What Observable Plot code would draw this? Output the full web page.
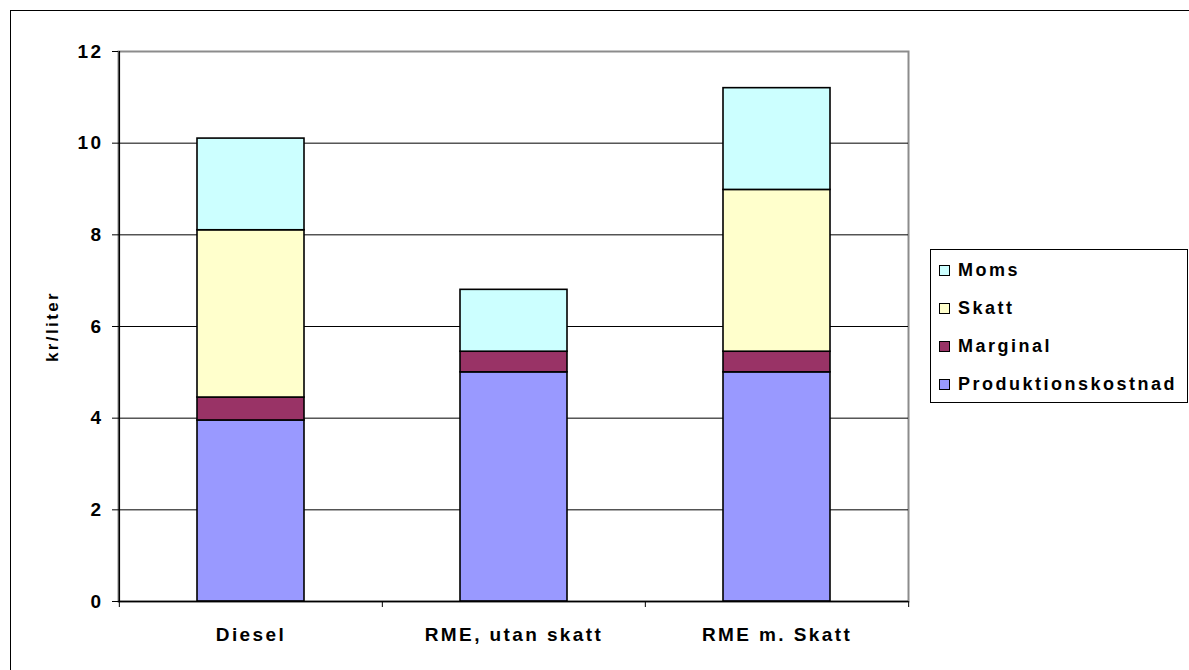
<!DOCTYPE html>
<html>
<head>
<meta charset="utf-8">
<script src="https://cdn.jsdelivr.net/npm/d3@7"></script>
<script src="https://cdn.jsdelivr.net/npm/@observablehq/plot@0.6"></script>
<style>
  html, body { margin: 0; padding: 0; background: #fff; overflow: hidden; width: 1189px; height: 670px; }
  #wrap { position: relative; width: 1189px; height: 670px; }
  #outer { position: absolute; left: 10px; top: 10px; width: 1300px; height: 800px; border: 1px solid #000; box-sizing: border-box; }
  #chart { position: absolute; left: 0; top: 0; }
  #legend { position: absolute; left: 930px; top: 249px; width: 258px; height: 154px; border: 1px solid #000; box-sizing: border-box; background: #fff;
            font-family: "Liberation Sans", Arial, sans-serif; font-weight: bold; font-size: 18px; letter-spacing: 2.5px; }
  .item { position: absolute; left: 8px; height: 20px; display: flex; align-items: center; }
  .sw { width: 11px; height: 11px; border: 1px solid #000; margin-right: 8px; box-sizing: border-box; }
</style>
</head>
<body>
<div id="wrap">
  <div id="chart"></div>
  <div id="outer"></div>
  <div id="legend"></div>
</div>
<script>
const categories = ["Diesel", "RME, utan skatt", "RME m. Skatt"];
const seriesNames = ["Produktionskostnad", "Marginal", "Skatt", "Moms"];
const seriesColors = ["#9999FF", "#993366", "#FFFFCC", "#CCFFFF"];
const produktionskostnad = [3.95, 5.0, 5.0];
const marginal = [0.5, 0.45, 0.45];
const skatt = [3.65, 0, 3.53];
const moms = [2.0, 1.35, 2.22];
const yTicks = [0, 2, 4, 6, 8, 10, 12];
const yLabel = "kr/liter";

const seriesValues = [produktionskostnad, marginal, skatt, moms];
const data = [];
seriesNames.forEach((s, i) => categories.forEach((c, j) => {
  if (seriesValues[i][j] > 0) data.push({cat: c, series: s, value: seriesValues[i][j]});
}));

const W = 1189, H = 670, mL = 118, mR = 281, mT = 51, mB = 69;
const half = (W - mL - mR) / categories.length / 2;
const font = "'Liberation Sans', Arial, sans-serif";

const chart = Plot.plot({
  width: W, height: H,
  marginLeft: mL, marginRight: mR, marginTop: mT, marginBottom: mB,
  style: {fontFamily: font, fontWeight: "bold", fontSize: "18px", color: "#000", background: "transparent", letterSpacing: "2.4px"},
  x: {domain: categories, padding: 0, label: null},
  y: {domain: [0, 12], label: null},
  color: {domain: seriesNames, range: seriesColors},
  marks: [
    Plot.frame({stroke: "#8c8c8c", strokeWidth: 2}),
    Plot.gridY([2, 4, 6, 8, 10], {stroke: "#000", strokeOpacity: 1}),
    Plot.barY(data, {x: "cat", y: "value", fill: "series", stroke: "#000", strokeWidth: 1.6, insetLeft: 78, insetRight: 78}),
    Plot.ruleY([0], {stroke: "#000", strokeWidth: 1.5}),
    Plot.ruleX([categories[0]], {dx: -half, y1: 0, y2: 12, stroke: "#000", strokeWidth: 1.5}),
    Plot.axisY(yTicks, {tickSize: 6, tickPadding: 9, fontSize: 19, fontWeight: "bold", label: null}),
    Plot.axisX({tickSize: 0, tickPadding: 26, fontSize: 19, fontWeight: "bold", label: null}),
    Plot.axisX({tickSize: 6, text: null, dx: -half, label: null}),
    Plot.axisX([categories[categories.length - 1]], {tickSize: 6, text: null, dx: half, label: null}),
    Plot.text([yLabel], {frameAnchor: "left", dx: -66, rotate: -90, textAnchor: "middle", fontSize: 17, fontWeight: "bold", text: d => d})
  ]
});
document.getElementById("chart").appendChild(chart);

const legend = document.getElementById("legend");
const rowsY = [269, 307, 345, 383];
const order = seriesNames.slice().reverse();
order.forEach((s, k) => {
  const it = document.createElement("div");
  it.className = "item";
  it.style.top = (rowsY[k] - 249 - 10) + "px";
  const sw = document.createElement("div");
  sw.className = "sw";
  sw.style.background = seriesColors[seriesNames.indexOf(s)];
  const t = document.createElement("span");
  t.textContent = s;
  it.appendChild(sw); it.appendChild(t);
  legend.appendChild(it);
});
</script>
</body>
</html>
